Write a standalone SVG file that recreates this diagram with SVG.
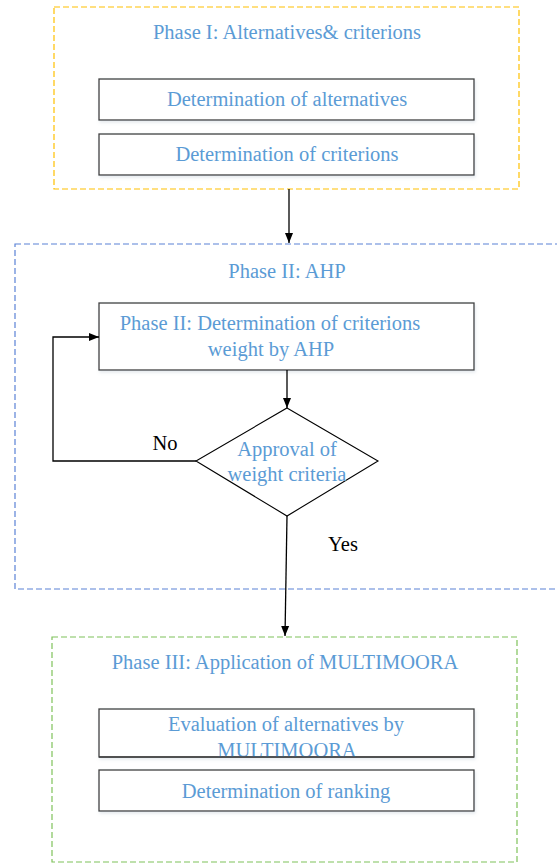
<svg xmlns="http://www.w3.org/2000/svg" width="557" height="863" viewBox="0 0 557 863">
<defs>
<marker id="arr" viewBox="0 0 10 10" refX="10" refY="5" markerWidth="10" markerHeight="10" markerUnits="userSpaceOnUse" orient="auto">
<path d="M0,1 L10,5 L0,9 Z" fill="#000"/>
</marker>
<filter id="sh" x="-5%" y="-20%" width="110%" height="150%">
<feDropShadow dx="1" dy="2" stdDeviation="1.5" flood-color="#9ab" flood-opacity="0.25"/>
</filter>
</defs>
<style>
.t{font-family:"Liberation Serif","Times New Roman",serif;font-size:20.5px;fill:#5B9BD5;text-anchor:middle}
.k{font-family:"Liberation Serif","Times New Roman",serif;font-size:20.5px;fill:#000;text-anchor:middle}
.box{fill:#fff;stroke:#404040;stroke-width:1.3;filter:url(#sh)}
.ph{fill:none;stroke-width:1.2;stroke-dasharray:6,3}
.c{fill:none;stroke:#000;stroke-width:1.3}
</style>
<rect width="557" height="863" fill="#fff"/>
<g id="phase1">
<rect x="54" y="7" width="465" height="182" class="ph" stroke="#FFC000"/>
<text class="t" x="287" y="39">Phase I: Alternatives&amp; criterions</text>
</g>
<g id="alt">
<rect x="99" y="79" width="375" height="41" class="box"/>
<text class="t" x="287" y="106">Determination of alternatives</text>
</g>
<g id="crit">
<rect x="99" y="134" width="375" height="41" class="box"/>
<text class="t" x="287" y="161">Determination of criterions</text>
</g>
<g id="phase2">
<rect x="15" y="244" width="543" height="345" class="ph" stroke="#5B82D6"/>
<text class="t" x="287" y="278">Phase II: AHP</text>
</g>
<g id="weight">
<rect x="99" y="303" width="375" height="67" class="box"/>
<text class="t" x="270" y="330">Phase II: Determination of criterions</text>
<text class="t" x="271" y="356">weight by AHP</text>
</g>
<g id="approval">
<polygon points="287,408 378,461 287,516 196,461" fill="#fff" stroke="#000" stroke-width="1.1"/>
<text class="t" x="287" y="456">Approval of</text>
<text class="t" x="287" y="481">weight criteria</text>
</g>
<g id="phase3">
<rect x="52" y="637" width="465" height="225" class="ph" stroke="#7FC25A"/>
<text class="t" x="285" y="669">Phase III: Application of MULTIMOORA</text>
</g>
<g id="eval">
<rect x="99" y="709" width="375" height="48" class="box"/>
<text class="t" x="286" y="731">Evaluation of alternatives by</text>
<text class="t" x="287" y="757">MULTIMOORA</text>
<line x1="99" y1="757" x2="474" y2="757" stroke="#404040" stroke-width="1.3"/>
</g>
<g id="rank">
<rect x="99" y="770" width="375" height="41" class="box"/>
<text class="t" x="286" y="798">Determination of ranking</text>
</g>
<g id="connectors">
<line x1="289" y1="189" x2="289" y2="243" class="c" marker-end="url(#arr)"/>
<line x1="287" y1="370" x2="287" y2="408" class="c" marker-end="url(#arr)"/>
<polyline points="196,461 53,461 53,337 99,337" class="c" marker-end="url(#arr)"/>
<line x1="287" y1="516" x2="285" y2="636" class="c" marker-end="url(#arr)"/>
<text class="k" x="165" y="450">No</text>
<text class="k" x="343" y="551">Yes</text>
</g>
</svg>
